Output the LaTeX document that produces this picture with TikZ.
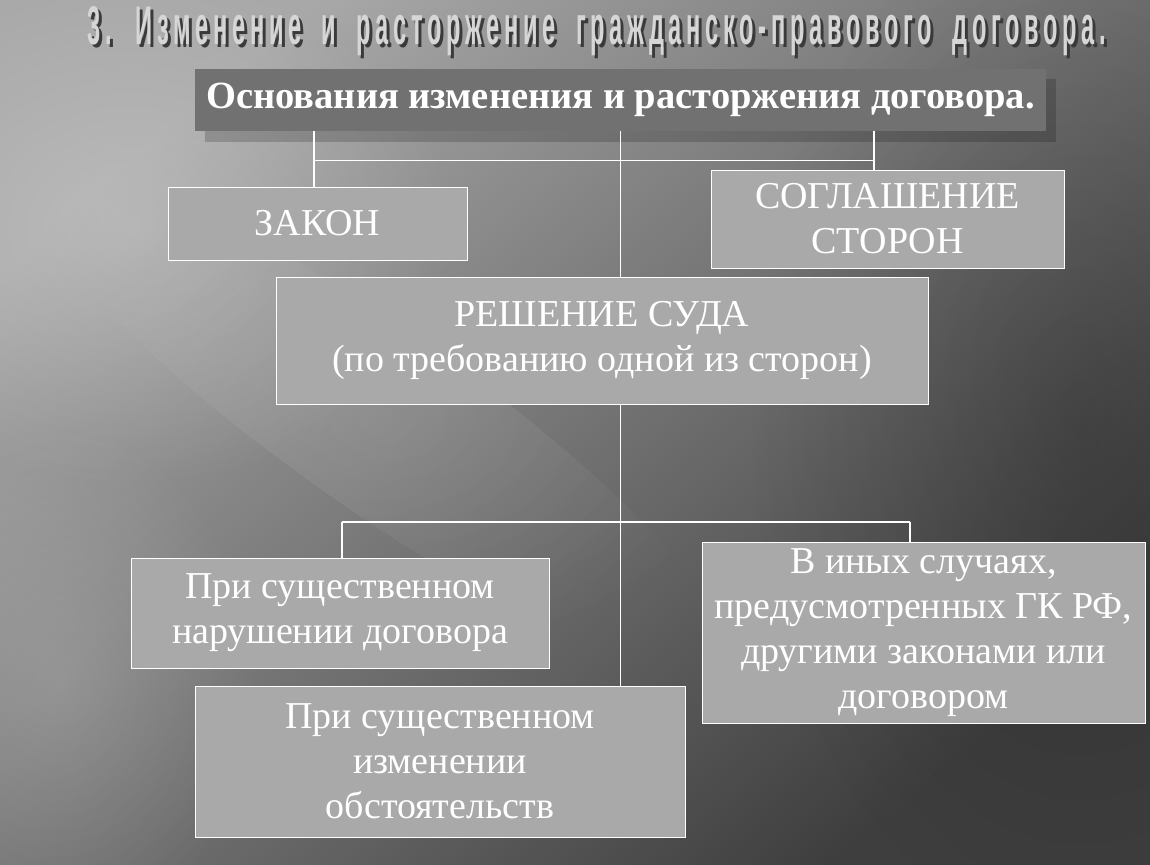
\documentclass[tikz,border=0pt]{standalone}
\usepackage{fontspec}
\setmainfont{Liberation Serif}
\newfontfamily\titlefont[LetterSpace=20,WordSpace=1.8]{Liberation Sans Bold}
\usepackage{graphicx}
\usetikzlibrary{calc,fadings}
\tikzfading[name=softglow, inner color=transparent!0, outer color=transparent!100]
\definecolor{boxgray}{HTML}{A9A9A9}
\definecolor{headgray}{HTML}{717171}
\definecolor{bglight}{HTML}{A8A8A8}
\definecolor{bgdark}{HTML}{3E3E3E}
\definecolor{titlegray}{HTML}{D6D6D6}
\definecolor{titleshadow}{HTML}{3A3A3A}
\tikzset{
  bx/.style={draw=white, line width=1pt, fill=boxgray, text=white, align=center, inner sep=0pt,
    font=\fontsize{38}{45}\selectfont},
  conn/.style={draw=white, line width=1.2pt},
  headbox/.style={fill=headgray, text=white, inner sep=0pt, font=\bfseries\fontsize{38.5}{44}\selectfont},
}
\newcommand{\titletext}{\resizebox{1019pt}{38pt}{\titlefont 3. Изменение и расторжение гражданско-правового договора.}}
\begin{document}
\begin{tikzpicture}[x=1pt,y=-1pt]
\useasboundingbox (0,0) rectangle (1150,864);
% background
\shade[top color=bglight, bottom color=bgdark, shading angle=40] (0,0) rectangle (1150,864);
\fill[white, opacity=0.22, path fading=softglow] (130,230) ellipse (330 and 260);
\fill[white, opacity=0.15, path fading=softglow] (60,680) ellipse (200 and 260);
\fill[white, opacity=0.10, path fading=softglow, rotate around={-35:(380,420)}] (380,420) ellipse (420 and 90);
\fill[black, opacity=0.18, path fading=softglow] (1080,420) ellipse (330 and 520);
% title (text with its shadow)
\node[anchor=base west, inner sep=0pt] (title) at (87,45)
  {\rlap{\kern3pt\raisebox{-3pt}{\color{titleshadow}\titletext}}\color{titlegray}\titletext};
% header with shadow
\fill[black, opacity=0.18] (205,79) rectangle (1056,142);
\node[headbox, minimum width=851pt, minimum height=62pt] (head) at (620.5,100)
  {Основания изменения и расторжения договора.};
% boxes
\node[bx, minimum width=299pt, minimum height=73pt] (zakon) at (317.5,223.5) {ЗАКОН};
\node[bx, minimum width=353pt, minimum height=98pt] (sogl) at (887.5,219) {СОГЛАШЕНИЕ\\СТОРОН};
\node[bx, minimum width=652pt, minimum height=127pt] (resh) at (602,340.5)
  {РЕШЕНИЕ СУДА\\(по требованию одной из сторон)};
\node[bx, minimum width=418pt, minimum height=110pt] (narush) at (340,613)
  {При существенном\\нарушении договора};
\node[bx, minimum width=443pt, minimum height=181pt] (inye) at (923.5,633)
  {В иных случаях,\\предусмотренных ГК РФ,\\другими законами или\\договором};
\node[bx, minimum width=490pt, minimum height=151pt] (izmen) at (440,761.5)
  {При существенном\\изменении\\обстоятельств};
% connectors
\coordinate (j1) at ($(head.south)+(0,29)$);
\coordinate (zl) at ([xshift=-3.5pt]zakon.north);
\coordinate (sr) at ([xshift=-13.5pt]sogl.north);
\draw[conn] (zl |- head.south) -- (zl);
\draw[conn] (sr |- head.south) -- (sr);
\draw[conn] (zl |- j1) -- (sr |- j1);
\draw[conn] (head.south) -- (head.south |- resh.north);
\coordinate (j2) at (head.south |- 0,522);
\coordinate (nl) at ([xshift=2pt]narush.north);
\coordinate (ir) at ([xshift=-13.5pt]inye.north);
\draw[conn] (head.south |- resh.south) -- (head.south |- izmen.north);
\draw[conn] (nl |- j2) -- (ir |- j2);
\draw[conn] (nl |- j2) -- (nl);
\draw[conn] (ir |- j2) -- (ir);
\end{tikzpicture}
\end{document}
